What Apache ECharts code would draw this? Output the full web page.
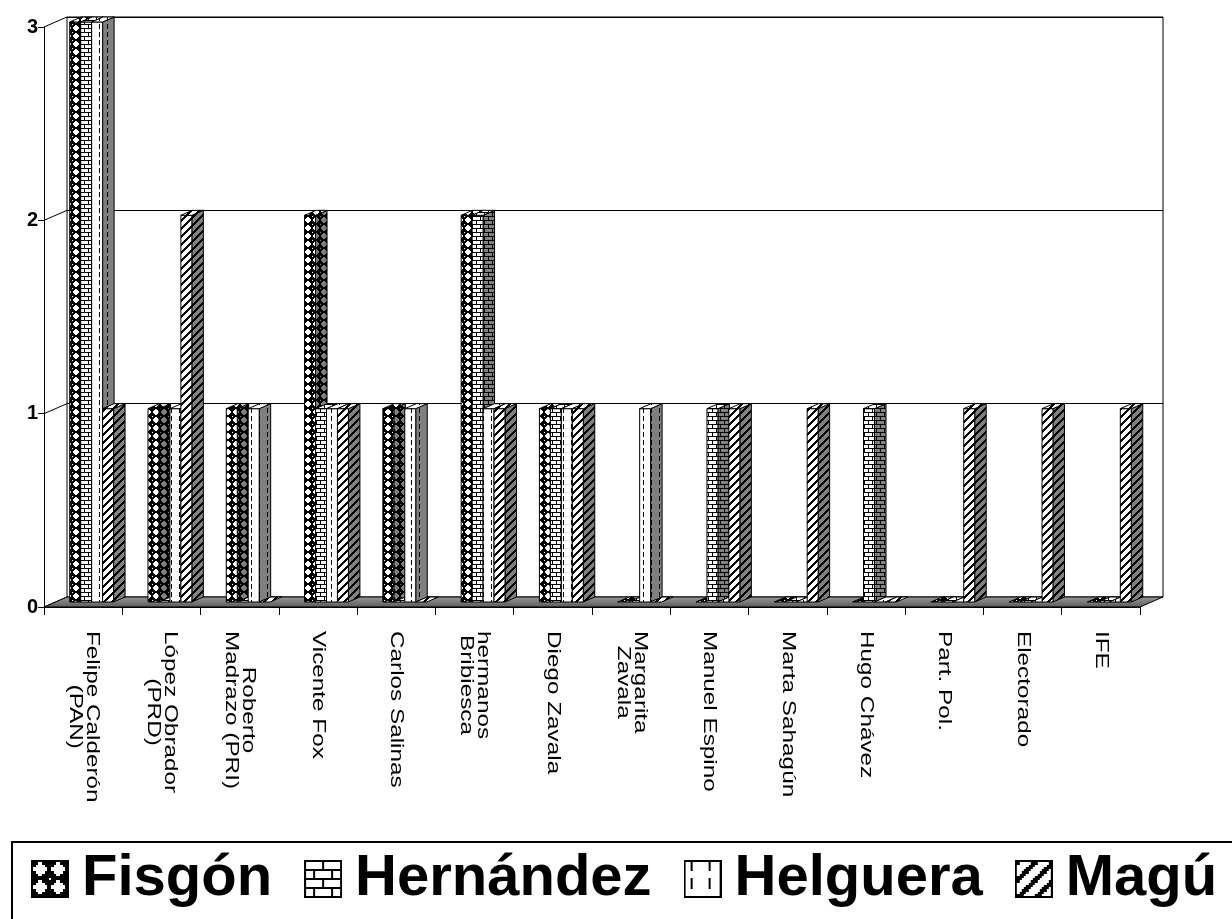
<!DOCTYPE html>
<html>
<head>
<meta charset="utf-8">
<script src="https://cdn.jsdelivr.net/npm/echarts@6/dist/echarts.min.js"></script>
<style>
  html, body { margin: 0; padding: 0; background: #fff; }
  #chart { width: 1232px; height: 919px; }
</style>
</head>
<body>
<div id="chart"></div>
<script>
// ---- data ----
const categories = [
  'Felipe Calderón\n(PAN)', 'López Obrador\n(PRD)', 'Roberto\nMadrazo (PRI)', 'Vicente Fox',
  'Carlos Salinas', 'hermanos\nBribiesca', 'Diego Zavala', 'Margarita\nZavala',
  'Manuel Espino', 'Marta Sahagún', 'Hugo Chávez', 'Part. Pol.', 'Electorado', 'IFE'
];
const seriesNames = ['Fisgón', 'Hernández', 'Helguera', 'Magú'];
const fisgon    = [3, 1, 1, 2, 1, 2, 1, 0, 0, 0, 0, 0, 0, 0];
const hernandez = [3, 0, 0, 1, 0, 2, 1, 0, 1, 0, 1, 0, 0, 0];
const helguera  = [3, 1, 1, 1, 1, 1, 1, 1, 0, 0, 0, 0, 0, 0];
const magu      = [1, 2, 0, 1, 0, 1, 1, 0, 1, 1, 0, 1, 1, 1];
const yTicks = [0, 1, 2, 3];

// ---- layout / style ----
const GRID = { left: 44, top: 27, right: 92, bottom: 312 };
const DEPTH = { x: 23, y: 10 };          // oblique depth of the chart box
const BAR_FRAC = 0.14;                   // bar front width as share of a category
const GREY = '#808080';
const FONT = '"Liberation Sans", Arial, sans-serif';

// ---- fill patterns ----
function tile(w, h, draw) {
  const c = document.createElement('canvas');
  c.width = w; c.height = h;
  const g = c.getContext('2d');
  g.imageSmoothingEnabled = false;
  draw(g, w, h);
  return c;
}
function diamondTile(bg, fg) {
  return tile(8, 8, (g) => {
    g.fillStyle = '#000'; g.fillRect(0, 0, 8, 8);
    g.fillStyle = fg;
    g.fillRect(3, 1, 2, 1); g.fillRect(2, 2, 4, 1); g.fillRect(1, 3, 6, 2);
    g.fillRect(2, 5, 4, 1); g.fillRect(3, 6, 2, 1);
    g.fillRect(0, 0, 1, 1);
  });
}
function brickTile(bg) {
  return tile(8, 8, (g) => {
    g.fillStyle = bg; g.fillRect(0, 0, 8, 8);
    g.fillStyle = '#000';
    g.fillRect(0, 0, 8, 1); g.fillRect(0, 4, 8, 1);
    g.fillRect(0, 0, 1, 4); g.fillRect(4, 4, 1, 4);
  });
}
function dashTile(bg) {
  return tile(8, 8, (g) => {
    g.fillStyle = bg; g.fillRect(0, 0, 8, 8);
    g.fillStyle = '#000';
    g.fillRect(3, 0, 1, 5);
  });
}
function stripeTile(bg) {
  return tile(8, 8, (g) => {
    g.fillStyle = bg; g.fillRect(0, 0, 8, 8);
    g.fillStyle = '#000';
    for (let y = 0; y < 8; y++) for (let x = 0; x < 8; x++) {
      if ((x + y) % 8 < 3) g.fillRect(x, y, 1, 1);
    }
  });
}
const tiles = [
  { front: diamondTile('#000', '#fff'), side: diamondTile('#000', GREY) },
  { front: brickTile('#fff'), side: brickTile(GREY) },
  { front: dashTile('#fff'), side: dashTile(GREY) },
  { front: stripeTile('#fff'), side: stripeTile(GREY) }
];
const pattern = (c) => ({ image: c, repeat: 'repeat' });

// legend swatches built from the same tiles
function legendIcon(t) {
  const c = tile(38, 38, (g) => {
    g.fillStyle = g.createPattern(t.front, 'repeat');
    g.save(); g.scale(2.25, 2.25); g.fillRect(0, 0, 17, 17); g.restore();
    g.strokeStyle = '#000'; g.lineWidth = 2; g.strokeRect(1, 1, 36, 36);
  });
  return 'image://' + c.toDataURL();
}

// ---- 3-D column drawing ----
function barRenderer(k) {
  return function (params, api) {
    const i = api.value(0), v = api.value(1);
    const p0 = api.coord([i, 0]);
    const p1 = api.coord([i, v]);
    const w = api.size([1, 0])[0] * BAR_FRAC;
    const sx = DEPTH.x / 2, sy = DEPTH.y / 2;
    const x = p0[0] + sx - 2 * w - 3 + k * w;
    const yb = p0[1] - sy, yt = p1[1] - sy;
    const t = tiles[k];
    const line = { stroke: '#000', lineWidth: 1 };
    const children = [];
    if (v > 0) {
      children.push({
        type: 'polygon',
        shape: { points: [[x + w, yt], [x + w + sx, yt - sy], [x + w + sx, yb - sy], [x + w, yb]] },
        style: Object.assign({ fill: pattern(t.side) }, line)
      });
      children.push({
        type: 'rect',
        shape: { x: x, y: yt, width: w, height: yb - yt },
        style: Object.assign({ fill: pattern(t.front) }, line)
      });
    }
    children.push({
      type: 'polygon',
      shape: { points: [[x, yt], [x + sx, yt - sy], [x + w + sx, yt - sy], [x + w, yt]] },
      style: Object.assign({ fill: pattern(t.front) }, line)
    });
    return { type: 'group', children: children };
  };
}

const valueSets = [fisgon, hernandez, helguera, magu];
const barSeries = seriesNames.map((name, k) => ({
  name: name,
  type: 'custom',
  xAxisIndex: 0, yAxisIndex: 0,
  clip: false,
  renderItem: barRenderer(k),
  encode: { x: 0, y: 1 },
  data: valueSets[k].map((v, i) => [i, v]),
  z: 5
}));

// floor of the chart box
const floorSeries = {
  type: 'custom', xAxisIndex: 0, yAxisIndex: 0, silent: true, clip: false, z: 3,
  data: [[0, 0]],
  renderItem: function (params, api) {
    const cs = params.coordSys;
    const y = api.coord([0, 0])[1];
    return {
      type: 'polygon',
      shape: { points: [[cs.x, y], [cs.x + cs.width, y], [cs.x + cs.width + DEPTH.x, y - DEPTH.y], [cs.x + DEPTH.x, y - DEPTH.y]] },
      style: {
        fill: new echarts.graphic.LinearGradient(0, 0, 0, 1, [
          { offset: 0, color: '#9a9a9a' }, { offset: 1, color: '#5a5a5a' }
        ]),
        stroke: '#000', lineWidth: 1
      }
    };
  }
};

// side-wall connectors between front axis and back wall
const wallSeries = {
  type: 'custom', xAxisIndex: 0, yAxisIndex: 0, silent: true, clip: false, z: 2,
  data: yTicks.map((v) => [0, v]),
  renderItem: function (params, api) {
    const cs = params.coordSys;
    const y = api.coord([0, api.value(1)])[1];
    return {
      type: 'line',
      shape: { x1: cs.x, y1: y, x2: cs.x + DEPTH.x, y2: y - DEPTH.y },
      style: { stroke: '#000', lineWidth: 1 }
    };
  }
};

// rotated category names under the floor
const LABEL_STRETCH = 1.35;
const labelSeries = {
  type: 'custom', xAxisIndex: 0, yAxisIndex: 0, silent: true, clip: false, z: 6,
  data: categories.map((c, i) => [i, 0]),
  renderItem: function (params, api) {
    const i = api.value(0);
    const p = api.coord([i, 0]);
    const text = categories[i].split('\n').map((s) => '{c|' + s + '}').join('\n');
    return {
      type: 'text',
      x: p[0], y: p[1] + 24,
      rotation: -Math.PI / 2,
      scaleX: LABEL_STRETCH,
      style: {
        text: text,
        align: 'left', verticalAlign: 'middle',
        fill: '#000',
        rich: { c: { align: 'center', fontSize: 18, lineHeight: 17, fontFamily: FONT, fill: '#000' } }
      }
    };
  }
};

const chart = echarts.init(document.getElementById('chart'), null, { renderer: 'canvas' });
chart.setOption({
  animation: false,
  backgroundColor: '#fff',
  grid: [
    { left: GRID.left, top: GRID.top, right: GRID.right, bottom: GRID.bottom },
    {
      left: GRID.left + DEPTH.x, top: GRID.top - DEPTH.y,
      right: GRID.right - DEPTH.x, bottom: GRID.bottom + DEPTH.y,
      show: true, backgroundColor: '#fff', borderColor: '#000', borderWidth: 1
    }
  ],
  xAxis: [
    {
      type: 'category', gridIndex: 0, data: categories, boundaryGap: true,
      axisLine: { show: true, lineStyle: { color: '#000', width: 1 } },
      axisTick: { show: true, interval: 0, length: 8, lineStyle: { color: '#000' } },
      axisLabel: { show: false }, splitLine: { show: false }
    },
    {
      type: 'category', gridIndex: 1, data: categories, boundaryGap: true,
      show: false
    }
  ],
  yAxis: [
    {
      type: 'value', gridIndex: 0, min: 0, max: 3, interval: 1,
      axisLine: { show: true, lineStyle: { color: '#000', width: 1 } },
      axisTick: { show: true, length: 6, lineStyle: { color: '#000' } },
      axisLabel: { color: '#000', fontSize: 20, fontWeight: 'bold', fontFamily: FONT, margin: 6 },
      splitLine: { show: false }
    },
    {
      type: 'value', gridIndex: 1, min: 0, max: 3, interval: 1,
      axisLine: { show: false }, axisTick: { show: false }, axisLabel: { show: false },
      splitLine: { show: true, lineStyle: { color: '#000', width: 1 } }
    }
  ],
  legend: {
    left: 12, top: 842,
    width: 1400,
    orient: 'horizontal',
    padding: [8, 40, 14, 19],
    itemGap: 32,
    itemWidth: 38, itemHeight: 38,
    borderColor: '#000', borderWidth: 2,
    backgroundColor: '#fff',
    selectedMode: false,
    textStyle: { color: '#000', fontSize: 58, fontWeight: 'bold', fontFamily: FONT, padding: [0, 0, 0, 8] },
    data: seriesNames.map((n, k) => ({ name: n, icon: legendIcon(tiles[k]) }))
  },
  series: [wallSeries, floorSeries].concat(barSeries, [labelSeries])
});
</script>
</body>
</html>
